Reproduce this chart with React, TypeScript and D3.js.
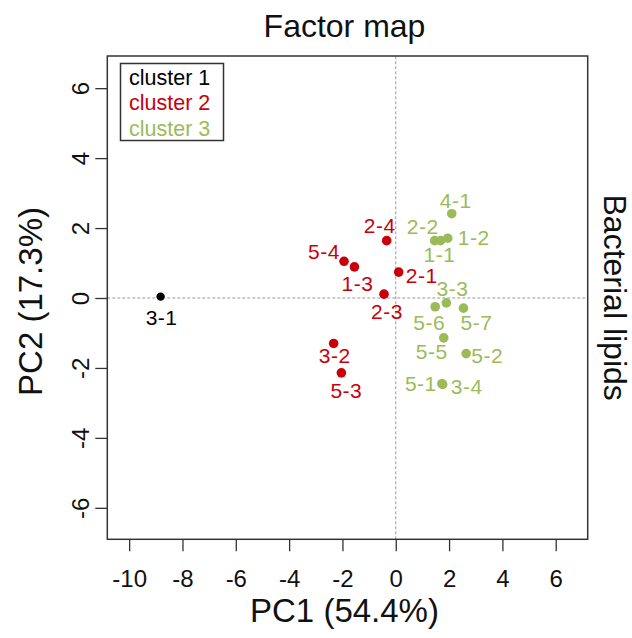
import * as React from 'react';
import { useEffect, useRef } from 'react';
import * as d3 from 'd3';

// sample names, PCA scores and cluster membership
const sampleNames = ['3-1', '2-4', '5-4', '1-3', '2-1', '2-3', '3-2', '5-3',
  '4-1', '1-2', '2-2', '1-1', '3-3', '5-6', '5-7', '5-5', '5-2', '5-1', '3-4'];
const pc1 = [-8.82, -0.34, -1.94, -1.55, 0.11, -0.44, -2.33, -2.04,
  2.10, 1.95, 1.46, 1.68, 1.90, 1.48, 2.54, 1.80, 2.64, 1.73, 1.76];
const pc2 = [0.04, 1.64, 1.05, 0.89, 0.74, 0.11, -1.30, -2.14,
  2.41, 1.71, 1.64, 1.64, -0.14, -0.25, -0.29, -1.14, -1.59, -2.45, -2.47];
const clusterOf = [1, 2, 2, 2, 2, 2, 2, 2, 3, 3, 3, 3, 3, 3, 3, 3, 3, 3, 3];

const clusterNames = ['cluster 1', 'cluster 2', 'cluster 3'];
const xTicks = [-10, -8, -6, -4, -2, 0, 2, 4, 6];
const yTicks = [-6, -4, -2, 0, 2, 4, 6];

// label placement relative to its point (px)
const labelOffset = [[1, 21], [-7, -15], [-20, -10], [3, 17], [23, 3], [3, 17], [1, 12], [5, 18],
  [4, -13], [26, -1], [-12, -14], [-1, 14], [6, -14], [-6, 16], [13, 14], [-12, 14], [21, 2], [-21, 0], [24, 2]];

const colors = ['#000000', '#c8000a', '#9bbb59'];
const font = '"Liberation Sans", Arial, Helvetica, sans-serif';

export default function App() {
  const ref = useRef<SVGSVGElement>(null);

  useEffect(() => {
    const width = 632, height = 638;
    const margin = { top: 56, right: 44.3, bottom: 98.7, left: 107.3 };

    const svg = d3.select(ref.current);
    svg.selectAll('*').remove();

    const x = d3.scaleLinear().domain([-10.82, 7.2]).range([margin.left, width - margin.right]);
    const y = d3.scaleLinear().domain([-6.9, 6.92]).range([height - margin.bottom, margin.top]);

    const g = svg.append('g').style('font-family', font);

    // reference lines at zero
    g.append('line')
      .attr('x1', x.range()[0]).attr('x2', x.range()[1])
      .attr('y1', y(0)).attr('y2', y(0))
      .attr('stroke', '#999').attr('stroke-dasharray', '3,2');
    g.append('line')
      .attr('x1', x(0)).attr('x2', x(0))
      .attr('y1', y.range()[0]).attr('y2', y.range()[1])
      .attr('stroke', '#999').attr('stroke-dasharray', '3,2');

    // frame
    g.append('rect')
      .attr('x', x.range()[0]).attr('y', y.range()[1])
      .attr('width', x.range()[1] - x.range()[0])
      .attr('height', y.range()[0] - y.range()[1])
      .attr('fill', 'none').attr('stroke', '#333').attr('stroke-width', 1.5);

    // x axis
    const xAxis = g.append('g')
      .attr('transform', 'translate(0,' + y.range()[0] + ')')
      .call(d3.axisBottom(x).tickValues(xTicks).tickSize(12).tickFormat(d => String(d)));
    xAxis.select('.domain').remove();
    xAxis.selectAll('line').attr('stroke', '#333').attr('stroke-width', 1.3);
    xAxis.selectAll('text')
      .attr('y', 48).attr('dy', 0)
      .style('font-family', font).style('font-size', '24px').attr('fill', '#111');

    // y axis, labels parallel to the axis
    const yAxis = g.append('g')
      .attr('transform', 'translate(' + x.range()[0] + ',0)')
      .call(d3.axisLeft(y).tickValues(yTicks).tickSize(12).tickFormat(d => String(d)));
    yAxis.select('.domain').remove();
    yAxis.selectAll('line').attr('stroke', '#333').attr('stroke-width', 1.3);
    yAxis.selectAll('text')
      .attr('x', null).attr('dy', null)
      .attr('text-anchor', 'middle')
      .attr('transform', 'translate(-18,0) rotate(-90)')
      .style('font-family', font).style('font-size', '24px').attr('fill', '#111');

    // points
    const idx = d3.range(sampleNames.length);
    g.selectAll('.pt')
      .data(idx)
      .enter()
      .append('circle')
      .attr('class', 'pt')
      .attr('cx', i => x(pc1[i]))
      .attr('cy', i => y(pc2[i]))
      .attr('r', i => clusterOf[i] === 1 ? 4.2 : 4.8)
      .attr('fill', i => colors[clusterOf[i] - 1]);

    g.selectAll('.lbl')
      .data(idx)
      .enter()
      .append('text')
      .attr('class', 'lbl')
      .attr('x', i => x(pc1[i]) + labelOffset[i][0])
      .attr('y', i => y(pc2[i]) + labelOffset[i][1])
      .attr('dy', '0.36em')
      .attr('text-anchor', 'middle')
      .style('font-size', '21px')
      .style('letter-spacing', '0.5px')
      .attr('fill', i => colors[clusterOf[i] - 1])
      .text(i => sampleNames[i]);

    // legend
    g.append('rect')
      .attr('x', 120.5).attr('y', 63.5)
      .attr('width', 103).attr('height', 77)
      .attr('fill', 'white').attr('stroke', '#333').attr('stroke-width', 1.5);
    g.selectAll('.leg')
      .data(clusterNames)
      .enter()
      .append('text')
      .attr('class', 'leg')
      .attr('x', 129)
      .attr('y', (d, i) => 84.5 + i * 25.5)
      .style('font-size', '21.5px')
      .attr('fill', (d, i) => colors[i])
      .text(d => d);

    // titles
    g.append('text')
      .attr('x', (x.range()[0] + x.range()[1]) / 2 - 3).attr('y', 37)
      .attr('text-anchor', 'middle')
      .style('font-size', '32px').attr('fill', '#111')
      .text('Factor map');
    g.append('text')
      .attr('x', (x.range()[0] + x.range()[1]) / 2 - 3).attr('y', 622)
      .attr('text-anchor', 'middle')
      .style('font-size', '33px').attr('fill', '#111')
      .text('PC1 (54.4%)');
    g.append('text')
      .attr('transform', 'translate(41.5,301.5) rotate(-90)')
      .attr('text-anchor', 'middle')
      .style('font-size', '33px').attr('fill', '#111')
      .text('PC2 (17.3%)');
    g.append('text')
      .attr('transform', 'translate(604,' + (y.range()[0] + y.range()[1]) / 2 + ') rotate(90)')
      .attr('text-anchor', 'middle')
      .style('font-size', '32px').attr('fill', '#111')
      .text('Bacterial lipids');
  }, []);

  return (
    <svg ref={ref} width={632} height={638}
      style={{ position: 'absolute', left: 0, top: 0, background: 'white' }} />
  );
}
